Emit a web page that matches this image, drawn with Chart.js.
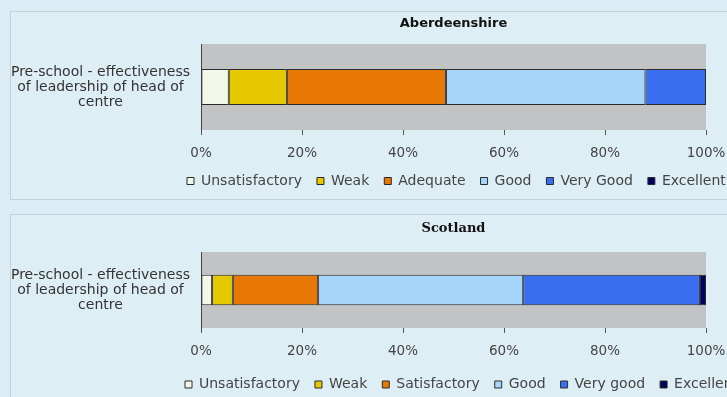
<!DOCTYPE html>
<html>
<head>
<meta charset="utf-8">
<script src="https://cdn.jsdelivr.net/npm/chart.js@4"></script>
<style>
  html, body { margin: 0; padding: 0; background: #dbecf4; width: 727px; height: 397px; overflow: hidden; }
  .panel { position: absolute; left: 10px; width: 760px; border: 1px solid #c4d2d9; background: #deeef5; }
  .wrap { position: absolute; left: 0; width: 727px; }
</style>
</head>
<body>
<div class="panel" style="top:11px;height:187px"></div>
<div class="panel" style="top:214px;height:200px"></div>
<div class="wrap" style="top:0;height:200px"><canvas id="aberdeen-canvas" width="727" height="200"></canvas></div>
<div class="wrap" style="top:200px;height:205px"><canvas id="scotland-canvas" width="727" height="205"></canvas></div>
<script>
const category = ['Pre-school - effectiveness', 'of leadership of head of', 'centre'];
const ticks_pct = [0, 20, 40, 60, 80, 100];

const aberdeen_levels = ['Unsatisfactory', 'Weak', 'Adequate', 'Good', 'Very Good', 'Excellent'];
const aberdeen_values = [5.5, 11.5, 31.5, 39.5, 12, 0];

const scotland_levels = ['Unsatisfactory', 'Weak', 'Satisfactory', 'Good', 'Very good', 'Excellent'];
const scotland_values = [2.2, 4.1, 16.9, 40.6, 35, 1.2];

const colours = ['#f2f8ea', '#e6c800', '#e87806', '#a6d6fb', '#3a6ef0', '#00005e'];

Chart.defaults.font.family = "'DejaVu Sans', sans-serif";
Chart.defaults.color = '#333';

// grey plot background like the old excel charts
const plotBg = {
  id: 'plotBg',
  beforeDraw(chart){
    const a = chart.chartArea;
    const ctx = chart.ctx;
    ctx.save();
    ctx.fillStyle = '#c1c3c4';
    ctx.fillRect(a.left, a.top, a.right - a.left, a.bottom - a.top);
    ctx.restore();
  }
};

// legend starts at a fixed x and runs off the right edge
const shiftLegend = {
  id: 'shiftLegend',
  afterLayout(chart){
    const lg = chart.legend;
    const x = chart.options.plugins.shiftLegend.left;
    lg.left = x;
    lg.right = x + 640;
    lg.width = 640;
  }
};

function make_chart(id, title, titleFont, levels, values, o){
  const ctx = document.getElementById(id);
  return new Chart(ctx, {
    type: 'bar',
    plugins: [plotBg, shiftLegend],
    data: {
      labels: [category],
      datasets: levels.map((lvl, i) => ({
        label: lvl,
        data: [values[i]],
        backgroundColor: colours[i],
        borderColor: '#2a2a2a',
        borderWidth: 1,
        borderSkipped: false,
        barPercentage: o.bar,
        categoryPercentage: 1
      }))
    },
    options: {
      animation: false,
      responsive: false,
      indexAxis: 'y',
      layout: {
        padding: {left: 10, right: 21, top: o.padTop, bottom: o.padBottom}
      },
      plugins: {
        shiftLegend: {left: o.legendLeft},
        tooltip: {enabled: false},
        title: {
          display: true,
          text: title,
          fullSize: false,
          color: '#111',
          font: titleFont,
          padding: {top: o.titleTop, bottom: o.titleBottom}
        },
        legend: {
          position: 'bottom',
          align: 'start',
          labels: {
            boxWidth: 7,
            boxHeight: 7,
            padding: 15,
            color: '#444',
            font: {size: 14}
          }
        }
      },
      scales: {
        x: {
          stacked: true,
          min: 0,
          max: 100,
          afterBuildTicks: (s) => { s.ticks = ticks_pct.map(v => ({value: v})); },
          afterFit: (s) => { s.height = o.xHeight; s.paddingLeft = 0; s.paddingRight = 0; },
          grid: {display: true, drawOnChartArea: false, drawTicks: true, tickLength: 5, color: '#555'},
          border: {display: false},
          ticks: {
            padding: 10,
            color: '#444',
            font: {size: 13.5},
            callback: (v) => v + '%'
          }
        },
        y: {
          stacked: true,
          afterFit: (s) => { s.width = 191; },
          grid: {display: false, drawTicks: false},
          border: {display: true, color: '#444'},
          ticks: {
            crossAlign: 'center',
            padding: 11,
            color: '#333',
            font: {size: 14, lineHeight: 1.07}
          }
        }
      }
    }
  });
}

make_chart('aberdeen-canvas', 'Aberdeenshire',
  {family: "'DejaVu Sans', sans-serif", size: 13, weight: 'bold', lineHeight: 1.2},
  aberdeen_levels, aberdeen_values,
  {bar: 0.42, padTop: 10, padBottom: 2, titleTop: 6, titleBottom: 12.4, xHeight: 29, legendLeft: 172});

make_chart('scotland-canvas', 'Scotland',
  {family: "'DejaVu Serif', serif", size: 13, weight: 'bold', lineHeight: 1.2},
  scotland_levels, scotland_values,
  {bar: 0.40, padTop: 14, padBottom: 3.5, titleTop: 7, titleBottom: 15.4, xHeight: 34.5, legendLeft: 170});
</script>
</body>
</html>
